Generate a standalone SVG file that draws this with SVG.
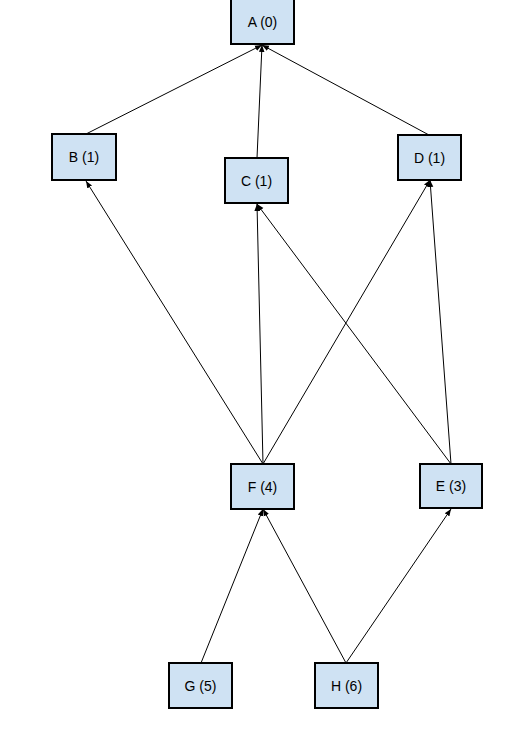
<svg xmlns="http://www.w3.org/2000/svg" width="509" height="739" viewBox="0 0 509 739">
<defs>
<style>
.node rect{fill:#cfe2f3;stroke:#000;stroke-width:2}
.node text{font-family:"Liberation Sans",Arial,sans-serif;font-size:14px;fill:#000;text-anchor:middle}
.edges line{stroke:#000;stroke-width:1}
</style>
<marker id="arr" viewBox="0 0 10 10" refX="10" refY="5" markerWidth="7" markerHeight="7" orient="auto" markerUnits="userSpaceOnUse">
<path d="M0,1 L10,5 L0,9 Z" fill="#000"/>
</marker>
</defs>
<rect width="509" height="739" fill="#fff"/>
<g class="edges">
<line x1="86" y1="134" x2="262" y2="45" marker-end="url(#arr)"/>
<line x1="257" y1="158" x2="262" y2="45" marker-end="url(#arr)"/>
<line x1="429" y1="135" x2="262" y2="45" marker-end="url(#arr)"/>
<line x1="263" y1="464" x2="86" y2="181" marker-end="url(#arr)"/>
<line x1="263" y1="464" x2="257" y2="204" marker-end="url(#arr)"/>
<line x1="263" y1="464" x2="430" y2="180" marker-end="url(#arr)"/>
<line x1="451" y1="464" x2="257" y2="204" marker-end="url(#arr)"/>
<line x1="451" y1="464" x2="430" y2="180" marker-end="url(#arr)"/>
<line x1="201" y1="663" x2="263" y2="509" marker-end="url(#arr)"/>
<line x1="346" y1="663" x2="263" y2="509" marker-end="url(#arr)"/>
<line x1="346" y1="663" x2="451" y2="509" marker-end="url(#arr)"/>
</g>
<g id="A" class="node"><rect x="231" y="-1" width="63" height="45"/><text x="262.5" y="27">A (0)</text></g>
<g id="B" class="node"><rect x="52" y="134" width="64" height="46"/><text x="84" y="162">B (1)</text></g>
<g id="C" class="node"><rect x="225" y="158" width="63" height="45"/><text x="256.5" y="186">C (1)</text></g>
<g id="D" class="node"><rect x="398" y="135" width="63" height="45"/><text x="429.5" y="163">D (1)</text></g>
<g id="F" class="node"><rect x="231" y="464" width="63" height="45"/><text x="262.5" y="492">F (4)</text></g>
<g id="E" class="node"><rect x="420" y="464" width="62" height="44"/><text x="451" y="491">E (3)</text></g>
<g id="G" class="node"><rect x="169" y="663" width="63" height="45"/><text x="200.5" y="691">G (5)</text></g>
<g id="H" class="node"><rect x="315" y="663" width="63" height="45"/><text x="346.5" y="691">H (6)</text></g>
</svg>
